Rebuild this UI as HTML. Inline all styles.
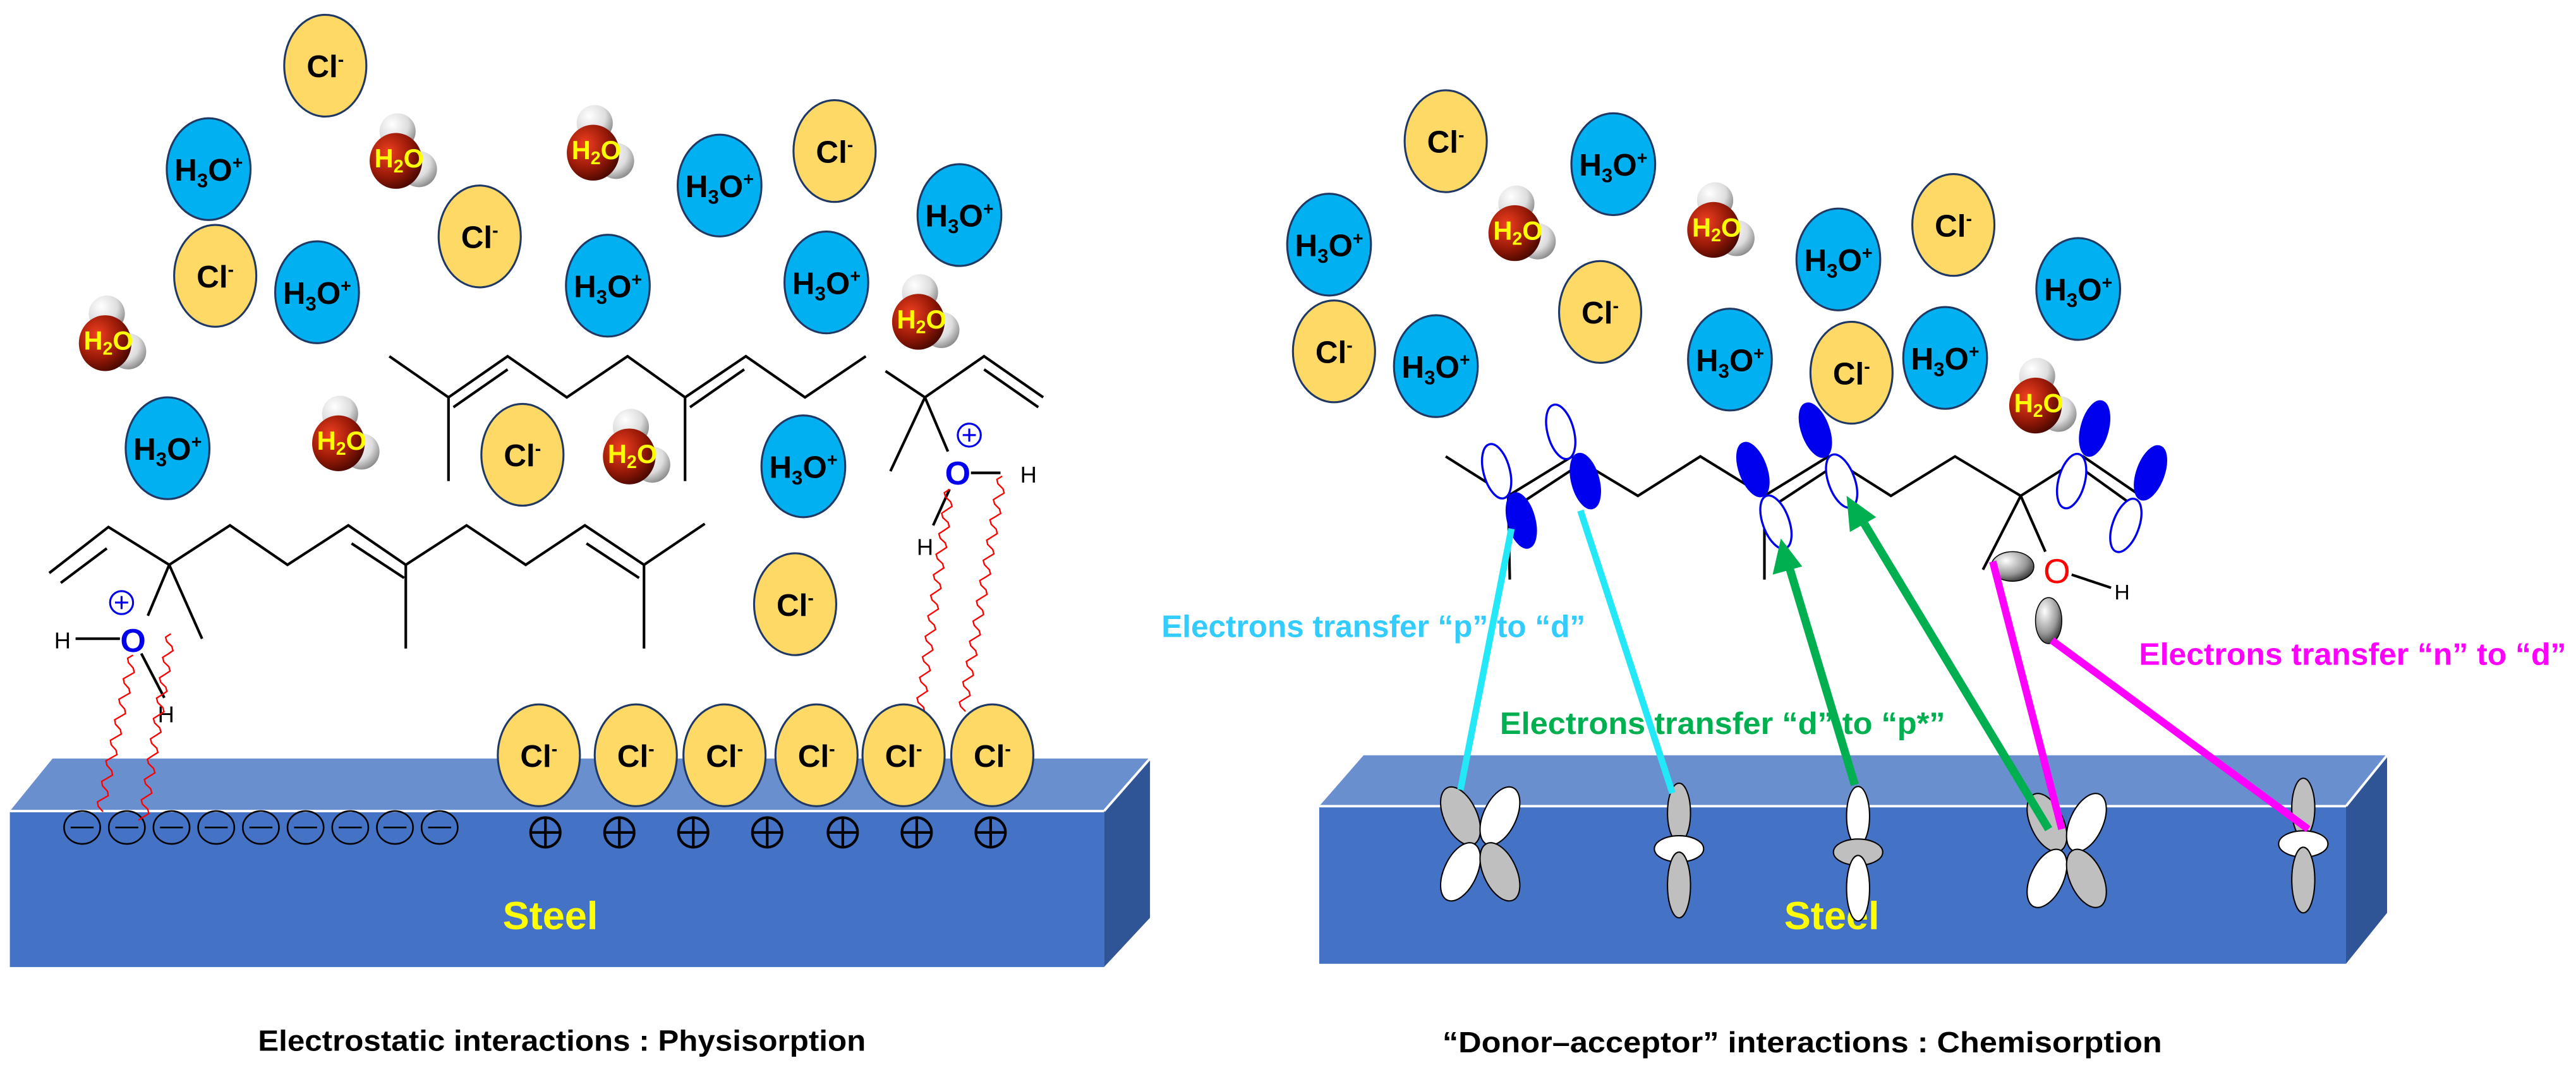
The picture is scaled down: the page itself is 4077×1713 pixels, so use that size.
<!DOCTYPE html>
<html><head><meta charset="utf-8"><style>
html,body{margin:0;padding:0;background:#fff;}
svg{display:block}
text{font-family:"Liberation Sans",sans-serif;font-weight:bold}
.ion{font-size:19px;fill:#000;text-anchor:middle}
.w{font-size:16px;fill:#FFFF00;text-anchor:middle}
.cl{fill:#FFD966;stroke:#1F3864;stroke-width:1.2}
.hy{fill:#00B0F0;stroke:#1F3864;stroke-width:1.2}
.bd{stroke:#000;stroke-width:1.6;fill:none}
.po{fill:#fff;stroke:#0000EE;stroke-width:1.3}
.pf{fill:#0000EE;stroke:#0000EE;stroke-width:1.3}
.lg{fill:#BFBFBF;stroke:#000;stroke-width:0.8}
.lw{fill:#fff;stroke:#000;stroke-width:0.8}
</style></head><body>
<svg id="s" width="4077" height="1713" viewBox="0 0 1568 659" preserveAspectRatio="none" xmlns="http://www.w3.org/2000/svg">
<defs>
<radialGradient id="rg" cx="0.35" cy="0.35" r="0.7"><stop offset="0" stop-color="#F04020"/><stop offset="0.6" stop-color="#9A1A08"/><stop offset="1" stop-color="#4A0800"/></radialGradient>
<radialGradient id="wg" cx="0.35" cy="0.3" r="0.75"><stop offset="0" stop-color="#fff"/><stop offset="0.6" stop-color="#ddd"/><stop offset="1" stop-color="#888"/></radialGradient>
<radialGradient id="gg" cx="0.35" cy="0.3" r="0.8"><stop offset="0" stop-color="#fff"/><stop offset="0.6" stop-color="#999"/><stop offset="1" stop-color="#222"/></radialGradient>
<g id="wat"><circle cx="-1" cy="-15" r="11" fill="url(#wg)"/><circle cx="12" cy="8" r="11" fill="url(#wg)"/><ellipse cx="-2" cy="3" rx="16" ry="17" fill="url(#rg)"/></g>
<g id="clov"><ellipse cx="-12" cy="-17" rx="10" ry="19" transform="rotate(-25 -12 -17)" class="lg"/><ellipse cx="12" cy="-17" rx="10" ry="19" transform="rotate(25 12 -17)" class="lw"/><ellipse cx="-12" cy="17" rx="10" ry="19" transform="rotate(25 -12 17)" class="lw"/><ellipse cx="12" cy="17" rx="10" ry="19" transform="rotate(-25 12 17)" class="lg"/></g>
<g id="dzg"><ellipse cx="0" cy="-20" rx="7" ry="18" class="lg"/><ellipse cx="0" cy="2" rx="15" ry="8" class="lw"/><ellipse cx="0" cy="24" rx="7" ry="20" class="lg"/></g>
<g id="dzw"><ellipse cx="0" cy="-20" rx="7" ry="18" class="lw"/><ellipse cx="0" cy="2" rx="15" ry="8" class="lg"/><ellipse cx="0" cy="24" rx="7" ry="20" class="lw"/></g>
</defs>

<!-- LEFT BLOCK -->
<polygon points="6,494 32,462 700,462 672,494" fill="#6A8FCF"/>
<polygon points="672,494 700,462 700,559 672,589" fill="#2F5597"/>
<rect x="6" y="494" width="666" height="95" fill="#4472C4"/>
<line x1="6" y1="494" x2="672" y2="494" stroke="#fff" stroke-width="1.5"/>
<line x1="672" y1="494" x2="700" y2="462" stroke="#fff" stroke-width="1.5"/>
<g fill="none" stroke="#000" stroke-width="1">
<g id="mins"></g>
</g>
<text x="335" y="566" style="font-size:24px;fill:#FFFF00" text-anchor="middle" textLength="58" lengthAdjust="spacingAndGlyphs">Steel</text>

<!-- RIGHT BLOCK -->
<polygon points="803,491 830,460 1453,460 1428,491" fill="#6A8FCF"/>
<polygon points="1428,491 1453,460 1453,556 1428,587" fill="#2F5597"/>
<rect x="803" y="491" width="625" height="96" fill="#4472C4"/>
<line x1="803" y1="491" x2="1428" y2="491" stroke="#fff" stroke-width="1.5"/>
<line x1="1428" y1="491" x2="1453" y2="460" stroke="#fff" stroke-width="1.5"/>
<text x="1115" y="566" style="font-size:24px;fill:#FFFF00" text-anchor="middle" textLength="58" lengthAdjust="spacingAndGlyphs">Steel</text>

<!-- LEFT CHAINS -->
<polyline class="bd" points="237,217 273,242 309,217 345,242 382,217 417,242 454,217 490,242 527,217"/>
<line class="bd" x1="276" y1="248" x2="309" y2="225"/>
<line class="bd" x1="420" y1="248" x2="453" y2="225"/>
<polyline class="bd" points="539,226 563,242 599,217 635,242"/>
<line class="bd" x1="599" y1="225" x2="632" y2="248"/>
<line class="bd" x1="273" y1="242" x2="273" y2="293"/>
<line class="bd" x1="417" y1="242" x2="417" y2="293"/>
<line class="bd" x1="563" y1="242" x2="542" y2="287"/>
<line class="bd" x1="563" y1="242" x2="577" y2="275"/>
<line class="bd" x1="591" y1="288" x2="609" y2="288"/>
<line class="bd" x1="578" y1="298" x2="568" y2="320"/>
<text x="583" y="295" style="font-size:20px;fill:#0000EE" text-anchor="middle">O</text>
<circle cx="590" cy="265" r="7" fill="none" stroke="#0000EE" stroke-width="1.2"/>
<path d="M586,265h8M590,261v8" stroke="#0000EE" stroke-width="1.2"/>
<text x="621" y="294" style="font-size:14px;font-weight:normal" >H</text>
<text x="558" y="338" style="font-size:14px;font-weight:normal" >H</text>

<polyline class="bd" points="30,349 66,321 103,344 140,320 175,344 212,320 247,344 284,320 320,344 356,320 392,344 429,319"/>
<line class="bd" x1="37" y1="355" x2="65" y2="334"/>
<line class="bd" x1="214" y1="331" x2="246" y2="352"/>
<line class="bd" x1="357" y1="331" x2="389" y2="352"/>
<line class="bd" x1="247" y1="344" x2="247" y2="395"/>
<line class="bd" x1="392" y1="344" x2="392" y2="395"/>
<line class="bd" x1="103" y1="344" x2="123" y2="389"/>
<line class="bd" x1="103" y1="344" x2="90" y2="375"/>
<line class="bd" x1="46" y1="389" x2="73" y2="389"/>
<line class="bd" x1="86" y1="398" x2="100" y2="425"/>
<text x="81" y="397" style="font-size:20px;fill:#0000EE" text-anchor="middle">O</text>
<circle cx="74" cy="367" r="7" fill="none" stroke="#0000EE" stroke-width="1.2"/>
<path d="M70,367h8M74,363v8" stroke="#0000EE" stroke-width="1.2"/>
<text x="33" y="395" style="font-size:14px;font-weight:normal">H</text>
<text x="96" y="440" style="font-size:14px;font-weight:normal">H</text>
<g id="waves" fill="none" stroke="#FF0000" stroke-width="0.9"></g>

<g id="surf"></g>

<!-- LEFT IONS -->
<ellipse class="cl" cx="198" cy="40" rx="25" ry="31"/><text class="ion" x="198" y="47">Cl<tspan dy="-7" font-size="11">-</tspan></text>
<ellipse class="cl" cx="292" cy="144" rx="25" ry="31"/><text class="ion" x="292" y="151">Cl<tspan dy="-7" font-size="11">-</tspan></text>
<ellipse class="cl" cx="131" cy="168" rx="25" ry="31"/><text class="ion" x="131" y="175">Cl<tspan dy="-7" font-size="11">-</tspan></text>
<ellipse class="cl" cx="508" cy="92" rx="25" ry="31"/><text class="ion" x="508" y="99">Cl<tspan dy="-7" font-size="11">-</tspan></text>
<ellipse class="cl" cx="318" cy="277" rx="25" ry="31"/><text class="ion" x="318" y="284">Cl<tspan dy="-7" font-size="11">-</tspan></text>
<ellipse class="cl" cx="484" cy="368" rx="25" ry="31"/><text class="ion" x="484" y="375">Cl<tspan dy="-7" font-size="11">-</tspan></text>

<ellipse class="hy" cx="127" cy="103" rx="25.5" ry="31"/><text class="ion" x="127" y="110">H<tspan dy="4" font-size="12">3</tspan><tspan dy="-4">O</tspan><tspan dy="-7" font-size="11">+</tspan></text>
<ellipse class="hy" cx="193" cy="178" rx="25.5" ry="31"/><text class="ion" x="193" y="185">H<tspan dy="4" font-size="12">3</tspan><tspan dy="-4">O</tspan><tspan dy="-7" font-size="11">+</tspan></text>
<ellipse class="hy" cx="102" cy="273" rx="25.5" ry="31"/><text class="ion" x="102" y="280">H<tspan dy="4" font-size="12">3</tspan><tspan dy="-4">O</tspan><tspan dy="-7" font-size="11">+</tspan></text>
<ellipse class="hy" cx="438" cy="113" rx="25.5" ry="31"/><text class="ion" x="438" y="120">H<tspan dy="4" font-size="12">3</tspan><tspan dy="-4">O</tspan><tspan dy="-7" font-size="11">+</tspan></text>
<ellipse class="hy" cx="370" cy="174" rx="25.5" ry="31"/><text class="ion" x="370" y="181">H<tspan dy="4" font-size="12">3</tspan><tspan dy="-4">O</tspan><tspan dy="-7" font-size="11">+</tspan></text>
<ellipse class="hy" cx="503" cy="172" rx="25.5" ry="31"/><text class="ion" x="503" y="179">H<tspan dy="4" font-size="12">3</tspan><tspan dy="-4">O</tspan><tspan dy="-7" font-size="11">+</tspan></text>
<ellipse class="hy" cx="584" cy="131" rx="25.5" ry="31"/><text class="ion" x="584" y="138">H<tspan dy="4" font-size="12">3</tspan><tspan dy="-4">O</tspan><tspan dy="-7" font-size="11">+</tspan></text>
<ellipse class="hy" cx="489" cy="284" rx="25.5" ry="31"/><text class="ion" x="489" y="291">H<tspan dy="4" font-size="12">3</tspan><tspan dy="-4">O</tspan><tspan dy="-7" font-size="11">+</tspan></text>

<use href="#wat" x="243" y="95"/><text class="w" x="243" y="102">H<tspan dy="3" font-size="11">2</tspan><tspan dy="-3">O</tspan></text>
<use href="#wat" x="363" y="90"/><text class="w" x="363" y="97">H<tspan dy="3" font-size="11">2</tspan><tspan dy="-3">O</tspan></text>
<use href="#wat" x="66" y="206"/><text class="w" x="66" y="213">H<tspan dy="3" font-size="11">2</tspan><tspan dy="-3">O</tspan></text>
<use href="#wat" x="208" y="267"/><text class="w" x="208" y="274">H<tspan dy="3" font-size="11">2</tspan><tspan dy="-3">O</tspan></text>
<use href="#wat" x="385" y="275"/><text class="w" x="385" y="282">H<tspan dy="3" font-size="11">2</tspan><tspan dy="-3">O</tspan></text>
<use href="#wat" x="561" y="193"/><text class="w" x="561" y="200">H<tspan dy="3" font-size="11">2</tspan><tspan dy="-3">O</tspan></text>

<text x="342" y="640" style="font-size:18px" text-anchor="middle" textLength="370" lengthAdjust="spacingAndGlyphs">Electrostatic interactions : Physisorption</text>

<!-- RIGHT IONS -->
<ellipse class="cl" cx="880" cy="86" rx="25" ry="31"/><text class="ion" x="880" y="93">Cl<tspan dy="-7" font-size="11">-</tspan></text>
<ellipse class="cl" cx="974" cy="190" rx="25" ry="31"/><text class="ion" x="974" y="197">Cl<tspan dy="-7" font-size="11">-</tspan></text>
<ellipse class="cl" cx="812" cy="214" rx="25" ry="31"/><text class="ion" x="812" y="221">Cl<tspan dy="-7" font-size="11">-</tspan></text>
<ellipse class="cl" cx="1189" cy="137" rx="25" ry="31"/><text class="ion" x="1189" y="144">Cl<tspan dy="-7" font-size="11">-</tspan></text>
<ellipse class="cl" cx="1127" cy="227" rx="25" ry="31"/><text class="ion" x="1127" y="234">Cl<tspan dy="-7" font-size="11">-</tspan></text>

<ellipse class="hy" cx="982" cy="100" rx="25.5" ry="31"/><text class="ion" x="982" y="107">H<tspan dy="4" font-size="12">3</tspan><tspan dy="-4">O</tspan><tspan dy="-7" font-size="11">+</tspan></text>
<ellipse class="hy" cx="809" cy="149" rx="25.5" ry="31"/><text class="ion" x="809" y="156">H<tspan dy="4" font-size="12">3</tspan><tspan dy="-4">O</tspan><tspan dy="-7" font-size="11">+</tspan></text>
<ellipse class="hy" cx="874" cy="223" rx="25.5" ry="31"/><text class="ion" x="874" y="230">H<tspan dy="4" font-size="12">3</tspan><tspan dy="-4">O</tspan><tspan dy="-7" font-size="11">+</tspan></text>
<ellipse class="hy" cx="1119" cy="158" rx="25.5" ry="31"/><text class="ion" x="1119" y="165">H<tspan dy="4" font-size="12">3</tspan><tspan dy="-4">O</tspan><tspan dy="-7" font-size="11">+</tspan></text>
<ellipse class="hy" cx="1053" cy="219" rx="25.5" ry="31"/><text class="ion" x="1053" y="226">H<tspan dy="4" font-size="12">3</tspan><tspan dy="-4">O</tspan><tspan dy="-7" font-size="11">+</tspan></text>
<ellipse class="hy" cx="1184" cy="218" rx="25.5" ry="31"/><text class="ion" x="1184" y="225">H<tspan dy="4" font-size="12">3</tspan><tspan dy="-4">O</tspan><tspan dy="-7" font-size="11">+</tspan></text>
<ellipse class="hy" cx="1265" cy="176" rx="25.5" ry="31"/><text class="ion" x="1265" y="183">H<tspan dy="4" font-size="12">3</tspan><tspan dy="-4">O</tspan><tspan dy="-7" font-size="11">+</tspan></text>

<use href="#wat" x="924" y="139"/><text class="w" x="924" y="146">H<tspan dy="3" font-size="11">2</tspan><tspan dy="-3">O</tspan></text>
<use href="#wat" x="1045" y="137"/><text class="w" x="1045" y="144">H<tspan dy="3" font-size="11">2</tspan><tspan dy="-3">O</tspan></text>
<use href="#wat" x="1241" y="244"/><text class="w" x="1241" y="251">H<tspan dy="3" font-size="11">2</tspan><tspan dy="-3">O</tspan></text>

<!-- RIGHT CHAIN -->
<polyline class="bd" points="880,278 918,302 957,278 997,302 1035,278 1074,302 1113,278 1151,302 1190,278 1230,302 1268,278 1303,302"/>
<line class="bd" x1="922" y1="309" x2="957" y2="286"/>
<line class="bd" x1="1078" y1="309" x2="1113" y2="286"/>
<line class="bd" x1="1268" y1="286" x2="1300" y2="309"/>
<line class="bd" x1="918" y1="302" x2="919" y2="353"/>
<line class="bd" x1="1074" y1="302" x2="1074" y2="353"/>
<line class="bd" x1="1230" y1="302" x2="1207" y2="347"/>
<line class="bd" x1="1230" y1="302" x2="1245" y2="336"/>
<line class="bd" x1="1261" y1="350" x2="1285" y2="358"/>
<text x="1252" y="355" style="font-size:21px;fill:#FF0000;font-weight:normal" text-anchor="middle">O</text>
<text x="1287" y="365" style="font-size:13px;font-weight:normal">H</text>
<ellipse cx="1225" cy="345" rx="13" ry="9" fill="url(#gg)" stroke="#000" stroke-width="0.6"/>
<ellipse cx="1247" cy="378" rx="8" ry="14" fill="url(#gg)" stroke="#000" stroke-width="0.6"/>

<!-- p orbitals -->
<ellipse class="po" cx="911" cy="287" rx="8" ry="17" transform="rotate(-15 911 287)"/>
<ellipse class="pf" cx="926" cy="317" rx="8" ry="17" transform="rotate(-15 926 317)"/>
<ellipse class="po" cx="950" cy="263" rx="8" ry="17" transform="rotate(-15 950 263)"/>
<ellipse class="pf" cx="965" cy="293" rx="8" ry="17" transform="rotate(-15 965 293)"/>
<ellipse class="pf" cx="1067" cy="286" rx="8" ry="17" transform="rotate(-20 1067 286)"/>
<ellipse class="po" cx="1081" cy="318" rx="8" ry="17" transform="rotate(-20 1081 318)"/>
<ellipse class="pf" cx="1105" cy="262" rx="8" ry="17" transform="rotate(-20 1105 262)"/>
<ellipse class="po" cx="1121" cy="293" rx="8" ry="17" transform="rotate(-20 1121 293)"/>
<ellipse class="pf" cx="1275" cy="261" rx="8" ry="17" transform="rotate(15 1275 261)"/>
<ellipse class="po" cx="1261" cy="293" rx="8" ry="17" transform="rotate(15 1261 293)"/>
<ellipse class="pf" cx="1309" cy="288" rx="8" ry="17" transform="rotate(20 1309 288)"/>
<ellipse class="po" cx="1294" cy="320" rx="8" ry="17" transform="rotate(20 1294 320)"/>

<!-- d orbitals -->
<use href="#clov" x="901" y="514"/>
<use href="#dzg" x="1022" y="515"/>
<use href="#dzw" x="1131" y="517"/>
<use href="#clov" x="1258" y="518"/>
<use href="#dzg" x="1402" y="512"/>

<!-- transfer lines -->
<line x1="920" y1="322" x2="889" y2="481" stroke="#22E8F8" stroke-width="4"/>
<line x1="962" y1="311" x2="1018" y2="483" stroke="#22E8F8" stroke-width="4"/>
<line x1="1129" y1="478" x2="1089" y2="345" stroke="#00B050" stroke-width="5"/>
<polygon points="1084,328 1079,350 1097,345" fill="#00B050"/>
<line x1="1247" y1="505" x2="1133" y2="316" stroke="#00B050" stroke-width="5"/>
<polygon points="1124,302 1126,324 1142,315" fill="#00B050"/>
<line x1="1213" y1="342" x2="1255" y2="505" stroke="#FF00FF" stroke-width="4.5"/>
<line x1="1249" y1="390" x2="1405" y2="505" stroke="#FF00FF" stroke-width="4.5"/>

<text x="707" y="388" style="font-size:19px;fill:#33CCFF" textLength="258" lengthAdjust="spacingAndGlyphs">Electrons transfer “p” to “d”</text>
<text x="913" y="447" style="font-size:19px;fill:#00B050" textLength="271" lengthAdjust="spacingAndGlyphs">Electrons transfer “d” to “p*”</text>
<text x="1302" y="405" style="font-size:19px;fill:#FF00FF" textLength="260" lengthAdjust="spacingAndGlyphs">Electrons transfer “n” to “d”</text>

<text x="1097" y="641" style="font-size:18px" text-anchor="middle" textLength="438" lengthAdjust="spacingAndGlyphs">“Donor–acceptor” interactions : Chemisorption</text>
</svg>
<script>
var NS="http://www.w3.org/2000/svg";
function el(t,a,p){var e=document.createElementNS(NS,t);for(var k in a)e.setAttribute(k,a[k]);p.appendChild(e);return e;}
var m=document.getElementById("mins");
for(var i=0;i<9;i++){var x=50+i*27.2;el("ellipse",{cx:x,cy:504,rx:11,ry:10},m);el("line",{x1:x-7,y1:504,x2:x+7,y2:504},m);}
var s=document.getElementById("surf");
[332,377,422,467,513,558,603].forEach(function(x){el("ellipse",{cx:x,cy:507,rx:9,ry:9,fill:"none",stroke:"#000","stroke-width":1.6},s);el("path",{d:"M"+(x-9)+",507h18M"+x+",498v18",stroke:"#000","stroke-width":1.6},s);});
[328,387,441,497,550,604].forEach(function(x){el("ellipse",{cx:x,cy:460,rx:25,ry:31,"class":"cl"},s);var t=el("text",{x:x,y:467,"class":"ion"},s);t.textContent="Cl";var ts=el("tspan",{dy:-7,"font-size":11},t);ts.textContent="-";});
var w=document.getElementById("waves");
function wave(x1,y1,x2,y2){var dx=x2-x1,dy=y2-y1,L=Math.hypot(dx,dy),ux=dx/L,uy=dy/L,nx=-uy,ny=ux,n=Math.floor(L/2.5),d="";for(var i=0;i<=n;i++){var t=i/n*L,a=Math.sin(i*Math.PI/2.5)*3;d+=(i?"L":"M")+(x1+ux*t+nx*a).toFixed(1)+","+(y1+uy*t+ny*a).toFixed(1);}el("path",{d:d},w);}
wave(81,399,61,494);wave(104,386,87,500);wave(578,298,560,433);wave(610,290,586,433);
</script>
</body></html>
